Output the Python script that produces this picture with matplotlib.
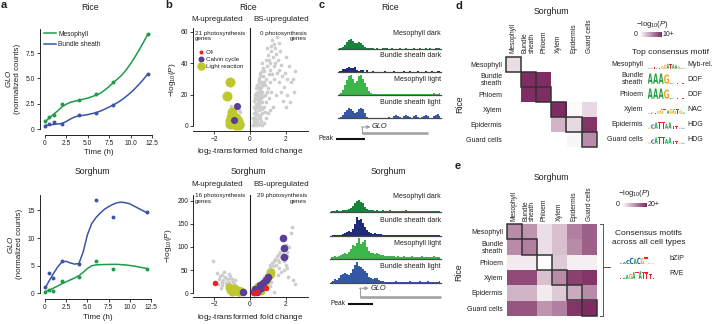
import numpy as np
import matplotlib
matplotlib.use('Agg')
import matplotlib.pyplot as plt
from matplotlib.colors import LinearSegmentedColormap, Normalize
from matplotlib.cm import ScalarMappable
from matplotlib.lines import Line2D
from matplotlib.patches import Rectangle, PathPatch
from matplotlib.textpath import TextPath
from matplotlib.font_manager import FontProperties
from matplotlib import transforms

plt.rcParams['font.family'] = ['Liberation Sans', 'DejaVu Sans']
plt.rcParams['mathtext.fontset'] = 'custom'
plt.rcParams['mathtext.rm'] = 'Liberation Sans'
plt.rcParams['mathtext.it'] = 'Liberation Sans:italic'
plt.rcParams['mathtext.bf'] = 'Liberation Sans:bold'
plt.rcParams['axes.linewidth'] = 0.6
plt.rcParams['xtick.major.width'] = 0.6
plt.rcParams['ytick.major.width'] = 0.6
plt.rcParams['xtick.major.size'] = 2
plt.rcParams['ytick.major.size'] = 2
plt.rcParams['xtick.major.pad'] = 1.5
plt.rcParams['ytick.major.pad'] = 1.5
plt.rcParams['xtick.labelsize'] = 4.8
plt.rcParams['ytick.labelsize'] = 4.8
TXT = '#231f20'
plt.rcParams['text.color'] = TXT
plt.rcParams['xtick.color'] = TXT
plt.rcParams['ytick.color'] = TXT
plt.rcParams['axes.labelcolor'] = TXT

GREEN = '#1e9a4a'
BLUE = '#3a55a5'
GRAY = '#cdcdcd'
LIGHT = '#bcc82c'
CALVIN = '#5a3d98'
C4 = '#e8212b'

# ---------------- data: panel a (GLO time course) ----------------
hours = [0, 0.5, 1, 2, 4, 6, 8, 12]
rice_meso = [0.78, 1.17, 1.4, 2.48, 2.87, 3.42, 4.66, 9.4]
rice_bs = [0.33, 0.49, 0.65, 0.49, 1.34, 1.57, 2.38, 5.45]
sorg_meso = [0.25, 0.6, 0.42, 2.22, 3.0, 5.9, 4.38, 4.45]
sorg_bs = [1.2, 3.6, 2.85, 5.9, 5.3, 16.9, 13.8, 14.7]
fit_hours = np.arange(0, 12.5, 0.5)
rice_meso_fit = [0.7, 1.1, 1.45, 1.8, 2.2, 2.45, 2.65, 2.75, 2.85, 2.95, 3.05, 3.2, 3.35,
                 3.55, 3.85, 4.2, 4.6, 4.95, 5.35, 5.85, 6.45, 7.1, 7.8, 8.55, 9.35]
rice_bs_fit = [0.35, 0.4, 0.45, 0.5, 0.55, 0.75, 1.0, 1.2, 1.3, 1.35, 1.42, 1.52, 1.62,
               1.78, 1.97, 2.17, 2.38, 2.62, 2.9, 3.22, 3.58, 3.98, 4.42, 4.9, 5.42]
sorg_meso_fit = [0.3, 0.6, 0.95, 1.35, 1.75, 2.1, 2.45, 2.8, 3.2, 3.8, 4.5, 5.0, 5.15,
                 5.2, 5.22, 5.24, 5.25, 5.25, 5.2, 5.15, 5.05, 4.95, 4.8, 4.65, 4.5]
sorg_bs_fit = [0.9, 2.3, 3.6, 4.8, 5.7, 5.8, 5.5, 5.3, 5.4, 7.5, 10.6, 12.6, 13.7,
               14.5, 15.2, 15.7, 16.1, 16.4, 16.5, 16.4, 16.2, 15.8, 15.4, 15.0, 14.6]

# ---------------- data: panel b (volcano) ----------------
rice_gray = [
    (0.15, 0.5), (0.2, 1.5), (0.25, 3), (0.18, 5), (0.3, 6), (0.22, 8), (0.35, 9), (0.28, 11), (0.4, 12), (0.32, 14),
    (0.25, 16), (0.38, 17), (0.42, 19), (0.3, 20), (0.45, 22), (0.35, 24), (0.4, 26), (0.48, 28), (0.3, 2), (0.4, 4),
    (0.45, 7), (0.5, 10), (0.5, 14), (0.55, 16), (0.2, 12), (0.35, 0.5), (0.5, 1), (0.6, 3), (0.55, 5), (0.65, 8),
    (0.6, 12), (0.7, 15), (0.62, 18), (0.55, 20), (0.68, 22), (0.6, 25), (0.52, 30), (0.65, 28), (0.72, 32), (0.58, 34),
    (0.8, 35), (0.75, 26), (0.85, 20), (0.78, 12), (0.9, 30), (0.95, 38), (0.7, 40), (0.88, 42), (1.0, 45), (1.05, 33),
    (1.1, 28), (1.15, 40), (1.2, 48), (0.98, 50), (1.25, 55), (1.3, 44), (1.12, 36), (1.35, 38), (1.4, 50), (1.5, 57),
    (1.45, 46), (1.6, 53), (1.55, 42), (1.7, 48), (1.35, 30), (1.2, 22), (1.05, 18), (1.5, 34), (1.6, 36), (1.75, 39),
    (1.65, 28), (1.8, 32), (1.9, 25), (1.95, 34), (2.0, 44), (2.1, 30), (2.2, 38), (2.05, 20), (2.3, 28), (2.45, 22),
    (2.25, 15), (1.85, 16), (2.4, 30), (2.55, 35), (1.3, 12), (1.45, 20), (0.9, 5), (1.0, 8), (0.8, 2), (1.15, 10),
    (0.65, 0.5), (0.45, 0.8), (1.75, 22), (2.0, 12), (0.42, 2.5), (0.3, 18), (0.5, 24), (0.85, 26), (0.95, 22), (1.25, 33),
    (0.27, 4.5), (0.33, 7.5), (0.37, 13), (0.44, 15), (0.52, 18), (0.47, 21), (0.57, 23), (0.43, 25), (0.62, 27),
    (0.5, 29), (0.56, 32), (0.66, 35), (0.74, 37), (0.8, 28), (0.72, 19), (0.68, 11), (0.58, 7), (0.48, 5),
    (0.38, 1.5), (0.24, 0.8), (0.82, 9), (0.92, 15), (1.0, 24), (1.08, 42), (1.18, 51), (1.32, 52), (1.42, 40),
    (0.62, 21), (0.36, 21), (0.54, 12),
    (-0.55, 9), (-0.6, 3), (-0.9, 0.5), (-0.5, 0.5), (-0.7, 6), (-1.3, 0.8), (-0.45, 2), (-1.05, 13), (-0.75, 1.5),
    (-1.2, 4), (-0.4, 1), (-0.62, 10.5)]
rice_light = [(-1.12, 28.3), (-1.31, 19.4), (-1.03, 8.7), (-0.84, 2.8), (-0.66, 1.7), (-0.95, 4.5), (-0.75, 1.0),
              (-1.0, 2.0), (-0.88, 6.0), (-0.7, 3.5), (-0.8, 0.8), (-1.1, 1.5), (-0.62, 0.8), (-0.92, 1.2),
              (-0.78, 4.8), (-1.05, 5.5), (-0.7, 2.2), (-0.85, 1.6), (-1.15, 3.0)]
rice_calvin = [(-0.75, 12.8), (-0.9, 3.6)]
rice_c4 = []

sorg_gray = [
    (-2.06, 70), (-1.87, 43), (-1.7, 38), (-1.55, 40), (-1.4, 35), (-1.3, 30), (-1.5, 28), (-1.2, 25), (-1.1, 38),
    (-1.0, 30), (-0.9, 20), (-1.3, 18), (-1.6, 25), (-1.75, 30), (-0.8, 15), (-0.7, 10), (-1.45, 45), (-1.2, 42),
    (-0.95, 25), (-1.05, 12), (-0.6, 5), (-1.8, 20), (-1.65, 12), (-1.25, 8), (-1.35, 22), (-1.15, 32), (-0.85, 28),
    (-1.55, 18),
    (0.15, 2), (0.25, 5), (0.35, 8), (0.3, 12), (0.45, 15), (0.5, 10), (0.55, 20), (0.6, 25), (0.7, 18), (0.75, 30),
    (0.8, 35), (0.85, 28), (0.9, 40), (0.95, 45), (1.0, 50), (1.05, 42), (1.1, 55), (1.15, 60), (1.2, 48), (1.25, 65),
    (1.3, 58), (1.35, 70), (1.4, 75), (1.45, 62), (1.5, 80), (1.55, 72), (1.6, 85), (1.65, 68), (1.7, 90), (1.75, 78),
    (1.8, 95), (1.85, 85), (1.9, 70), (2.0, 105), (2.05, 90), (2.1, 80), (2.2, 100), (2.3, 130), (2.35, 144),
    (2.0, 60), (1.6, 55), (1.3, 40), (1.0, 30), (2.43, 28), (2.5, 20), (2.15, 35), (1.37, 3), (1.2, 25), (0.65, 5),
    (0.4, 3), (1.75, 45), (1.55, 40), (0.95, 20), (1.1, 15), (1.9, 50), (2.1, 55)]
sorg_light = [(-1.2, 14), (-1.05, 10), (-0.95, 7), (-0.85, 5), (-0.75, 4), (-0.65, 3), (-0.55, 2.5), (-1.1, 6),
              (-0.9, 11), (-0.8, 8), (-0.7, 6), (-0.6, 5), (-1.0, 3), (-0.5, 4),
              (1.1, 40), (0.84, 23), (0.47, 16), (0.56, 9), (0.65, 14), (0.35, 5), (0.95, 30), (1.2, 45),
              (0.75, 18), (0.3, 10), (0.6, 4)]
sorg_calvin = [(-0.42, 2.5), (1.87, 120), (1.93, 98), (1.91, 79), (1.03, 36), (0.75, 21.6), (0.28, 9), (0.37, 3.5),
               (0.6, 12), (0.45, 6), (0.9, 28), (0.2, 2), (0.55, 18)]
sorg_c4 = [(-1.97, 23), (0.9, 12), (0.37, 2), (0.2, 0.5)]

# ---------------- data: panel c (accessibility tracks) ----------------
track_names = ['Mesophyll dark', 'Bundle sheath dark', 'Mesophyll light', 'Bundle sheath light']
track_colors = ['#17843c', '#1f2b7b', '#3cb54a', '#3557a7']
rice_tracks = [
    [1, 1, 2, 4, 7, 9, 10, 8, 6, 6, 7, 6, 4, 2, 1, 1, 0.8, 0.6, 0.5, 0.7, 0.5, 0.4, 0.6, 0.8, 0.6, 0.5,
     0.4, 0.6, 0.5, 0.4, 0.5, 0.7, 0.5, 0.4, 0.6, 0.5, 0.4, 0.5, 0.6, 0.4, 0.5, 0.7, 0.5, 0.4, 0.6, 0.5,
     0.6, 0.4, 0.5, 0.7, 0.6, 0.8],
    [0.5, 1, 2.5, 3, 4, 5, 4, 3.5, 4.5, 2, 1, 2, 1.5, 0, 1.5, 0, 0, 1, 0, 0, 0, 0, 0, 1, 0, 0,
     0, 0, 0.8, 0, 0, 0, 0, 1, 0, 0, 1, 0, 0, 0, 1.2, 0, 0, 0, 1, 0, 0, 1, 0, 0, 1, 0.5],
    [1, 2, 5, 10, 15, 19, 20, 16, 12, 14, 19, 20, 16, 12, 8, 4, 2, 1.5, 1.2, 1.5, 1, 1.3, 1.5, 1.2, 1, 1.4,
     1.2, 1, 1.3, 1.5, 1.2, 1, 1.4, 1.2, 1.5, 1.3, 1, 1.2, 1.5, 1.3, 1.1, 1.4, 1.2, 1, 1.5, 1.3,
     1.2, 1.4, 1.6, 1.3, 1.5, 2],
    [0.5, 1.5, 3, 6, 8, 10, 9, 7, 5, 6, 9, 10, 9, 5, 1, 0, 0, 0, 0, 0, 0, 0, 0, 0, 0.5, 1,
     0.5, 0, 2, 3, 2, 1, 0.5, 2, 3, 2, 1, 0, 2, 3, 1, 0, 1, 2.5, 3, 2, 0.5, 0, 2, 3, 4, 2]]
sorg_tracks = [
    [1, 1.5, 1, 2, 1.5, 1, 2, 2.5, 2, 3, 4, 6, 9, 11, 12, 10, 9, 5, 3, 2, 2.5, 2, 1.5, 2, 1.8, 1.5, 2, 1.6,
     1.5, 1.8, 2, 1.5, 1.7, 1.5, 1.8, 1.6, 1.5, 1.7, 1.9, 1.5, 1.6, 1.8, 1.5, 1.7, 1.6, 1.5, 1.8, 1.6,
     1.7, 1.5, 1.6, 1.8, 1.5, 1.7, 1.6, 1.5],
    [0.5, 0.8, 1, 1, 1.2, 1.5, 2, 3, 4, 5, 4.5, 7, 12, 19, 16, 17, 13, 9, 6, 4, 3, 2.5, 3, 2, 2.5, 2, 1.5,
     1.2, 1, 1.2, 1, 1.3, 1, 1.2, 1.5, 1, 1.2, 1, 1.3, 1.1, 1, 1.2, 1.4, 1, 1.2, 1, 1.3, 1.5, 1.2, 1,
     1.1, 1.3, 1, 1.2, 1.4, 1.5],
    [2, 2.5, 3, 2.5, 3, 4, 5, 6, 5.5, 7, 10, 14, 13, 16, 21, 15, 17, 19, 12, 8, 6, 6.5, 5, 6, 5, 4.5, 4,
     3.5, 3.5, 3, 3, 3.5, 3, 2.5, 3, 2.5, 2.8, 3, 2.5, 2.8, 2.5, 3, 2.6, 2.5, 2.8, 2.5, 3, 2.6, 2.4, 2.8,
     2.5, 2.6, 3, 2.5, 2.7, 2.5],
    [1, 2, 4, 3, 5, 8, 9, 10, 9, 8, 10, 14, 18, 21, 17, 16, 14, 12, 10, 6, 5, 4, 5, 4.5, 3, 2, 1.5, 1, 1,
     0.8, 1, 0.8, 1, 1.2, 0.8, 1, 0.8, 1, 0.9, 1, 1.2, 0.8, 1, 0.9, 1, 1.2, 0.8, 1, 1, 1.2, 0.9, 1, 1.1,
     0.9, 1, 1.2]]
rice_gene = (11.5, 44.8)
rice_peak = (-1.6, 13.1)
sorg_gene = (14.6, 55.7)
sorg_peak = (8.4, 21.3)

# ---------------- data: panels d, e (heatmaps, motifs) ----------------
cell_types = ['Mesophyll', 'Bundle\nsheath', 'Phloem', 'Xylem', 'Epidermis', 'Guard cells']
d_vals = [[1.6, 0, 0, 0, 0, 0],
          [0, 10, 10, 0, 0, 0],
          [0, 10, 10, 0, 0, 0],
          [0, 0, 0, 10, 0.3, 1.8],
          [0, 0, 0, 3.5, 1.8, 9.5],
          [0, 0, 0, 0, 0.4, 5.5]]
e_vals = [[11, 10, 3, 6, 12, 15],
          [11, 12, 3, 6, 11, 15],
          [2, 2, 0, 5, 1.5, 1.5],
          [17, 17, 6, 11, 18, 19],
          [7, 7, 2, 5, 8, 11],
          [16, 16, 10, 12, 19, 20]]
motif_names = ['Myb-rel.', 'DOF', 'DOF', 'NAC', 'HDG', 'HDG']
motif_seqs = ['AATCTGGATAAGAA', 'AAAGCTT', 'AAAGCTT', 'ACTGGTAGGTGA', 'GCATTAATTGC', 'GCATTAATTGC']
motif_heights = [[0.1, 0.15, 0.35, 0.1, 0.15, 0.5, 0.75, 0.95, 0.85, 0.85, 0.75, 0.55, 0.15, 0.1],
                 [1.95, 1.95, 1.95, 1.75, 0.15, 0.12, 0.1],
                 [1.95, 1.95, 1.95, 1.75, 0.15, 0.12, 0.1],
                 [0.1, 0.2, 0.15, 0.5, 0.9, 0.8, 0.6, 0.9, 0.9, 0.8, 0.6, 0.2],
                 [0.2, 0.8, 1.2, 1.3, 1.3, 0.9, 1.2, 0.6, 0.5, 0.2, 0.15],
                 [0.2, 0.8, 1.2, 1.3, 1.3, 0.9, 1.2, 0.6, 0.5, 0.2, 0.15]]
cons_names = ['bZIP', 'RVE']
cons_seqs = ['AACCACGTGA', 'TAAGATATTTT']
cons_heights = [[0.2, 0.4, 0.8, 1.2, 1.0, 1.2, 1.1, 1.3, 0.2, 0.1],
                [0.2, 0.3, 0.8, 1.0, 1.3, 1.4, 1.5, 1.4, 1.3, 1.0, 0.3]]

# ---------------- figure ----------------
W, H = 721, 324
fig = plt.figure(figsize=(W / 100, H / 100), dpi=100)


def box(l, t, w, h):
    return fig.add_axes([l / W, 1 - (t + h) / H, w / W, h / H])


over = box(0, 0, W, H)
over.set_xlim(0, W)
over.set_ylim(H, 0)
over.axis('off')
over.set_zorder(5)


def label(x, y, s, **kw):
    kw.setdefault('fontsize', 5)
    kw.setdefault('ha', 'center')
    kw.setdefault('va', 'center')
    over.text(x, y, s, **kw)


for ch, x, y in [('a', 0.5, 5.5), ('b', 165, 5.5), ('c', 319, 5.5), ('d', 455, 6), ('e', 455, 166)]:
    label(x, y, ch, fontsize=8, fontweight='bold', ha='left')

# ---- panel a ----
def time_panel(ax, m, bs, m_fit, bs_fit, ymax, yticks, ytl):
    ax.plot(fit_hours, m_fit, color=GREEN, lw=1.1)
    ax.plot(fit_hours, bs_fit, color=BLUE, lw=1.1)
    ax.scatter(hours, m, s=8, color=GREEN, lw=0, zorder=3, clip_on=False)
    ax.scatter(hours, bs, s=8, color=BLUE, lw=0, zorder=3, clip_on=False)
    ax.set_xlim(0, 12.5)
    ax.set_ylim(0, ymax)
    for s in ['top', 'right']:
        ax.spines[s].set_visible(False)
    ax.spines['left'].set_position(('outward', 3.8))
    ax.spines['bottom'].set_position(('outward', 4.2))
    ax.set_xticks([0, 2.5, 5, 7.5, 10, 12.5])
    ax.set_xticklabels(['0', '2.5', '5.0', '7.5', '10.0', '12.5'])
    ax.set_yticks(yticks)
    ax.set_yticklabels(ytl)
    ax.set_xlabel('Time (h)', fontsize=5.8, labelpad=2)
    ax.set_ylabel(r'$\it{GLO}$' + '\n(normalized counts)', fontsize=5.8, labelpad=3, linespacing=1.3)
    ax.patch.set_visible(False)


ax_a1 = box(45, 28.7, 107, 100.3)
time_panel(ax_a1, rice_meso, rice_bs, rice_meso_fit, rice_bs_fit, 9.9,
           [0, 2.5, 5, 7.5], ['0', '2.5', '5.0', '7.5'])
ax_a1.legend(handles=[Line2D([], [], color=GREEN, lw=1.1), Line2D([], [], color=BLUE, lw=1.1)],
             labels=['Mesophyll', 'Bundle sheath'], loc='upper left', frameon=False, fontsize=4.8,
             handlelength=1.8, handletextpad=0.4, labelspacing=0.5,
             bbox_to_anchor=(41 / W, 1 - 28 / H), bbox_transform=fig.transFigure, borderaxespad=0)
ax_a2 = box(45, 195, 106, 98.4)
time_panel(ax_a2, sorg_meso, sorg_bs, sorg_meso_fit, sorg_bs_fit, 17.8, [0, 5, 10, 15], ['0', '5', '10', '15'])
label(90, 8, 'Rice', fontsize=6.3)
label(92, 172, 'Sorghum', fontsize=6.3)

# ---- panel b ----
def volcano(ax, gray, light, calvin, c4, ylim, yticks, s_light, s_calvin):
    def pts(lst):
        return [p[0] for p in lst], [p[1] for p in lst]
    ax.scatter(*pts(gray), s=7, color=GRAY, lw=0, zorder=1)
    ax.scatter(*pts(light), s=s_light, color=LIGHT, lw=0, zorder=2)
    ax.scatter(*pts(calvin), s=s_calvin, color=CALVIN, lw=0, zorder=3)
    if c4:
        ax.scatter(*pts(c4), s=16, color=C4, lw=0, zorder=4)
    ax.axvline(0, color='#222222', lw=0.8, zorder=0)
    ax.set_xlim(-3.2, 3.25)
    ax.set_ylim(*ylim)
    ax.set_xticks([-2, 0, 2])
    ax.set_yticks(yticks)
    for s in ['top', 'right']:
        ax.spines[s].set_visible(False)
    ax.spines['left'].set_bounds(0, ylim[1])
    ax.set_xlabel(r'log$_2$-transformed fold change', fontsize=5.9, labelpad=2.5)
    ax.set_ylabel(r'$-$log$_{10}$($\it{P}$)', fontsize=5.9, labelpad=2)
    ax.patch.set_visible(False)


ax_b1 = box(193, 28, 114.9, 102.7)
volcano(ax_b1, rice_gray, rice_light, rice_calvin, rice_c4, (-3, 62.5), [0, 20, 40, 60], 52, 26)
ax_b1.legend(handles=[Line2D([], [], ls='', marker='o', ms=2.9, mfc=C4, mec='none'),
                      Line2D([], [], ls='', marker='o', ms=4.3, mfc=CALVIN, mec='none'),
                      Line2D([], [], ls='', marker='o', ms=6.1, mfc=LIGHT, mec='none')],
             labels=['C4', 'Calvin cycle', 'Light reaction'], loc='upper left', frameon=False,
             fontsize=4.5, handlelength=0.8, handletextpad=0.4, labelspacing=0.25,
             bbox_to_anchor=(196 / W, 1 - 47 / H), bbox_transform=fig.transFigure, borderaxespad=0)
ax_b2 = box(193, 195.1, 114.9, 101.4)
volcano(ax_b2, sorg_gray, sorg_light, sorg_calvin, sorg_c4, (-7, 212), [0, 50, 100, 150, 200], 34, 30)

label(248, 7, 'Rice', fontsize=6.3)
label(248, 172, 'Sorghum', fontsize=6.3)
for y in (19.5, 185):
    label(217, y, 'M-upregulated', fontsize=5.8)
    label(281, y, 'BS-upregulated', fontsize=5.8)
label(195, 30.5, '21 photosynthesis\ngenes', fontsize=4.5, ha='left', va='top', linespacing=1.15)
label(307, 30.5, '0 photosynthesis\ngenes', fontsize=4.5, ha='right', va='top', linespacing=1.15,
      multialignment='right')
label(195, 193, '16 photosynthesis\ngenes', fontsize=4.5, ha='left', va='top', linespacing=1.15)
label(307, 193, '29 photosynthesis\ngenes', fontsize=4.5, ha='right', va='top', linespacing=1.15,
      multialignment='right')

# ---- panel c ----
def track(ax, vals, color, name):
    x = np.arange(len(vals))
    ax.fill_between(x, vals, step='mid', color=color, lw=0)
    ax.axhline(0, color='#4a4a4a', lw=0.9, clip_on=False)
    ax.set_xlim(-0.5, len(vals) - 0.5)
    ax.set_ylim(0, 22)
    ax.axis('off')
    ax.text(1, 0.72, name, transform=ax.transAxes, ha='right', va='center', fontsize=5)


def gene_panel(ax, n, gene, peak, y_arrow, y_gene, y_peak):
    gc = '#a3a3a3'
    ax.set_xlim(-0.5, n - 0.5)
    ax.axis('off')
    ax.plot(gene, [y_gene, y_gene], color=gc, lw=1.9, solid_capstyle='butt', clip_on=False)
    ax.plot([gene[0], gene[0]], [y_gene, y_arrow], color=gc, lw=0.8, clip_on=False)
    ax.annotate('', xy=(gene[0] + 4.5, y_arrow), xytext=(gene[0] - 0.2, y_arrow),
                arrowprops=dict(arrowstyle='-|>', color=gc, lw=0.8, mutation_scale=5,
                                shrinkA=0, shrinkB=0), annotation_clip=False)
    ax.text(gene[0] + 5.2, y_arrow, 'GLO', fontsize=5.3, style='italic', ha='left', va='center')
    ax.plot(peak, [y_peak, y_peak], color='#111111', lw=1.5, solid_capstyle='butt', clip_on=False)
    ax.text(peak[0] - 1.2, y_peak - 0.3, 'Peak', fontsize=4.8, ha='right', va='center')


for i, base in enumerate([49, 71.7, 95, 118.3]):
    track(box(338, base - 22, 103, 22), rice_tracks[i], track_colors[i], track_names[i])
ax_g1 = box(338, 122, 103, 20)
ax_g1.set_ylim(20, 0)
gene_panel(ax_g1, len(rice_tracks[0]), rice_gene, rice_peak, 5, 11.3, 16.6)

for i, base in enumerate([212.3, 236, 259.3, 282.7]):
    track(box(330, base - 22, 111, 22), sorg_tracks[i], track_colors[i], track_names[i])
ax_g2 = box(330, 283, 111, 24)
ax_g2.set_ylim(24, 0)
gene_panel(ax_g2, len(sorg_tracks[0]), sorg_gene, sorg_peak, 5.3, 13.7, 20.5)

label(390, 7, 'Rice', fontsize=6.3)
label(388, 172, 'Sorghum', fontsize=6.3)

# ---- panels d, e ----
cmap = LinearSegmentedColormap.from_list('plum', ['#ffffff', '#7e2c61'])


def heat(ax, vals, vmax):
    ax.imshow(vals, cmap=cmap, vmin=0, vmax=vmax, aspect='auto')
    for s in ax.spines.values():
        s.set_visible(False)
    ax.xaxis.tick_top()
    ax.set_xticks(range(6))
    ax.set_xticklabels(cell_types, rotation=90, fontsize=4.8, va='bottom', ha='center',
                       multialignment='left', linespacing=1.0)
    ax.set_yticks(range(6))
    ax.set_yticklabels(cell_types, fontsize=5, multialignment='right', linespacing=1.05)
    ax.tick_params(length=0, pad=2.5)
    for i in range(6):
        ax.add_patch(Rectangle((i - 0.5, i - 0.5), 1, 1, fill=False, ec='#333333', lw=1.1,
                               clip_on=False, zorder=3))


def cbar(l, t, w, h, vmax, hi):
    cax = box(l, t, w, h)
    cb = fig.colorbar(ScalarMappable(Normalize(0, vmax), cmap), cax=cax, orientation='horizontal')
    cb.outline.set_visible(False)
    cb.set_ticks([])
    label(l - 2.5, t + h / 2, '0', ha='right')
    label(l + w + 1, t + h / 2, hi, ha='left')


LOGO_FP = FontProperties(family='DejaVu Sans', weight='bold')
LETTER_COLORS = {'A': '#24a146', 'C': '#2b5cb0', 'G': '#f5a521', 'T': '#e2262b'}


def logo(ax, seq, heights):
    for i, (ch, hgt) in enumerate(zip(seq, heights)):
        tp = TextPath((0, 0), ch, size=1, prop=LOGO_FP)
        bb = tp.get_extents()
        tr = (transforms.Affine2D().translate(-bb.x0, -bb.y0)
              .scale(0.94 / bb.width, hgt / bb.height).translate(i + 0.03, 0))
        ax.add_patch(PathPatch(tr.transform_path(tp), color=LETTER_COLORS[ch], lw=0))
    ax.set_xlim(0, len(seq))
    ax.set_ylim(0, 2)
    ax.axis('off')


ax_d = box(505.7, 56.7, 91, 90)
heat(ax_d, d_vals, 10)
label(551.7, 11, 'Sorghum', fontsize=6.3)
label(460, 104, 'Rice', fontsize=6.3, rotation=90)
cbar(640, 32.3, 21.7, 4.6, 10, '10+')
label(652, 24.5, r'$-$log$_{10}$($\it{P}$)', fontsize=5.5)
label(671, 52, 'Top consensus motif', fontsize=6)
for i in range(6):
    yc = 64.2 + 15 * i
    label(643.3, yc, cell_types[i], ha='right', multialignment='right', linespacing=1.05)
    logo(box(647.5, yc - 6, 38, 10.5), motif_seqs[i], motif_heights[i])
    label(687, yc + 0.5, motif_names[i], ha='left')

ax_e = box(506.7, 224, 90, 91.7)
heat(ax_e, e_vals, 20)
label(551.7, 177, 'Sorghum', fontsize=6.3)
label(458.5, 271.7, 'Rice', fontsize=6.3, rotation=90)
cbar(622, 202.5, 24.5, 4.6, 20, '20+')
label(634, 193.5, r'$-$log$_{10}$($\it{P}$)', fontsize=5.5)

bc = '#555555'
over.plot([602.7, 602.7], [224, 315.7], color=bc, lw=0.7)
over.plot([599.5, 602.7], [224, 224], color=bc, lw=0.7)
over.plot([599.5, 602.7], [315.7, 315.7], color=bc, lw=0.7)
over.plot([602.7, 610], [266.7, 266.7], color=bc, lw=0.7)
label(648.5, 238, 'Consensus motifs\nacross all cell types', fontsize=6, linespacing=1.25)
for i, yb in enumerate([264.3, 279.3]):
    logo(box(619, yb - 11, 36, 11), cons_seqs[i], cons_heights[i])
    label(669.3, yb - 5.5, cons_names[i], ha='left')

fig.savefig('out.png', dpi=100)
